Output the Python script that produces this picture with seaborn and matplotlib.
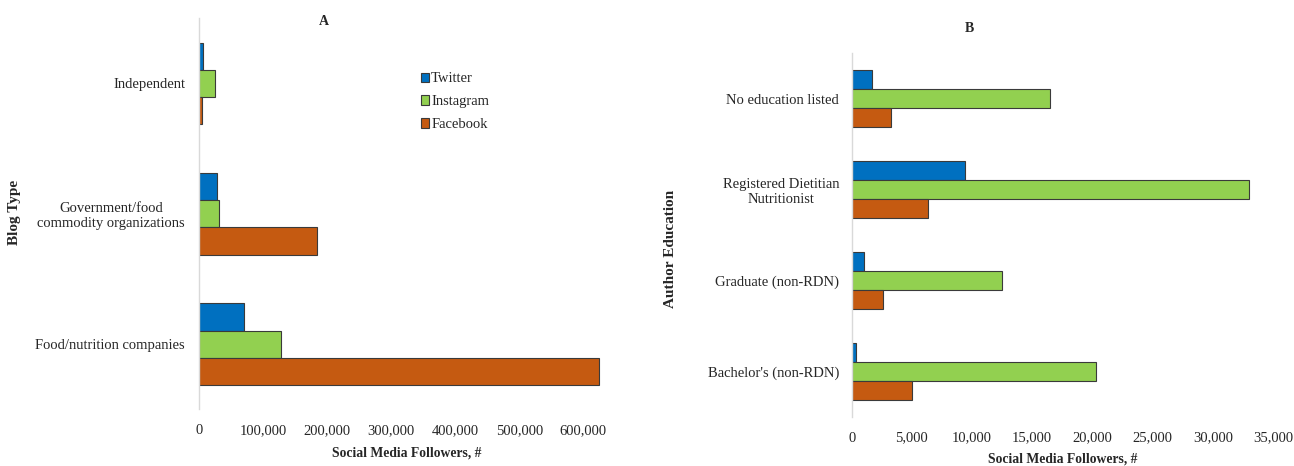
import matplotlib
matplotlib.use("Agg")
import matplotlib.pyplot as plt
import seaborn as sns
import pandas as pd
from matplotlib.patches import Patch
from matplotlib.ticker import FuncFormatter

# ---- data ----
platforms = ["Twitter", "Instagram", "Facebook"]
colors = ["#0070C0", "#92D050", "#C55A11"]

blog_types = ["Independent", "Government/food\ncommodity organizations", "Food/nutrition companies"]
blog_twitter = [6700, 28600, 70800]
blog_instagram = [25400, 31700, 127500]
blog_facebook = [4700, 184700, 624000]

educations = ["No education listed", "Registered Dietitian\nNutritionist",
              "Graduate (non-RDN)", "Bachelor's (non-RDN)"]
edu_twitter = [1700, 9400, 1000, 330]
edu_instagram = [16500, 33000, 12500, 20300]
edu_facebook = [3300, 6350, 2600, 5000]

ticks_a = [0, 100000, 200000, 300000, 400000, 500000, 600000]
ticks_b = [0, 5000, 10000, 15000, 20000, 25000, 30000, 35000]


def long_df(cats, tw, ig, fb):
    rows = []
    for c, a, b, d in zip(cats, tw, ig, fb):
        rows += [(c, "Twitter", a), (c, "Instagram", b), (c, "Facebook", d)]
    return pd.DataFrame(rows, columns=["cat", "platform", "value"])


df_a = long_df(blog_types, blog_twitter, blog_instagram, blog_facebook)
df_b = long_df(educations, edu_twitter, edu_instagram, edu_facebook)

sns.set_style("white")
plt.rcParams["font.family"] = ["Liberation Serif", "DejaVu Serif"]

W, H = 1294, 466
fig = plt.figure(figsize=(W / 100, H / 100), dpi=100)


def px_axes(l, r, t, b):
    return fig.add_axes([l / W, 1 - b / H, (r - l) / W, (b - t) / H])


axA = px_axes(199, 615.4, 18.3, 409.3)
axB = px_axes(851.7, 1273, 53, 417)

pal = dict(zip(platforms, colors))
for ax, df, order in [(axA, df_a, blog_types), (axB, df_b, educations)]:
    sns.barplot(data=df, x="value", y="cat", hue="platform", order=order,
                hue_order=platforms, palette=pal, orient="h", width=0.625,
                edgecolor="#3a3a3a", linewidth=0.8, saturation=1, ax=ax,
                legend=False, errorbar=None)
    for s in ["top", "right", "bottom"]:
        ax.spines[s].set_visible(False)
    ax.spines["left"].set_color("#D9D9D9")
    ax.spines["left"].set_linewidth(1.0)
    ax.tick_params(axis="both", length=0, labelsize=10.5)
    ax.set_facecolor("white")
    for lbl in ax.get_yticklabels():
        lbl.set_multialignment("center")
    ax.xaxis.set_major_formatter(FuncFormatter(lambda v, p: f"{int(v):,}"))

axA.set_xlim(0, 650000)
axA.set_xticks(ticks_a)
axB.set_xlim(0, 35000)
axB.set_xticks(ticks_b)
axA.tick_params(axis="x", pad=10.5)
axA.tick_params(axis="y", pad=10)
axB.tick_params(axis="x", pad=10.5)
axB.tick_params(axis="y", pad=9)

# axis labels
axA.set_ylabel("Blog Type", fontsize=11, fontweight="bold")
axB.set_ylabel("Author Education", fontsize=11, fontweight="bold")
axA.set_xlabel("Social Media Followers, #", fontsize=9.8, fontweight="bold")
axB.set_xlabel("Social Media Followers, #", fontsize=9.8, fontweight="bold")

for ax, (l, r, t, b), ylx, yly, xly in [
    (axA, (199, 615.4, 18.3, 409.3), 15, 212.5, 452.7),
    (axB, (851.7, 1273, 53, 417), 670, 249, 459),
]:
    ax.yaxis.label.set_va("center")
    ax.xaxis.label.set_va("center")
    ax.yaxis.set_label_coords((ylx - l) / (r - l), (b - yly) / (b - t))
    ax.xaxis.set_label_coords(0.5, (b - xly) / (b - t))

# panel titles
fig.text(324.3 / W, 1 - 21.7 / H, "A", ha="center", va="center",
         fontsize=10, fontweight="bold")
fig.text(969 / W, 1 - 29 / H, "B", ha="center", va="center",
         fontsize=10, fontweight="bold")

# legend
handles = [Patch(facecolor=c, edgecolor="#3a3a3a", linewidth=0.8, label=p)
           for p, c in zip(platforms, colors)]
axA.legend(handles=handles, loc="upper left",
           bbox_to_anchor=(421 / W, 1 - 72.5 / H), bbox_transform=fig.transFigure,
           frameon=False, fontsize=10.5, handlelength=0.55, handleheight=0.65,
           handletextpad=0.15, labelspacing=0.68, borderpad=0, borderaxespad=0)

fig.savefig("out.png", dpi=100)
